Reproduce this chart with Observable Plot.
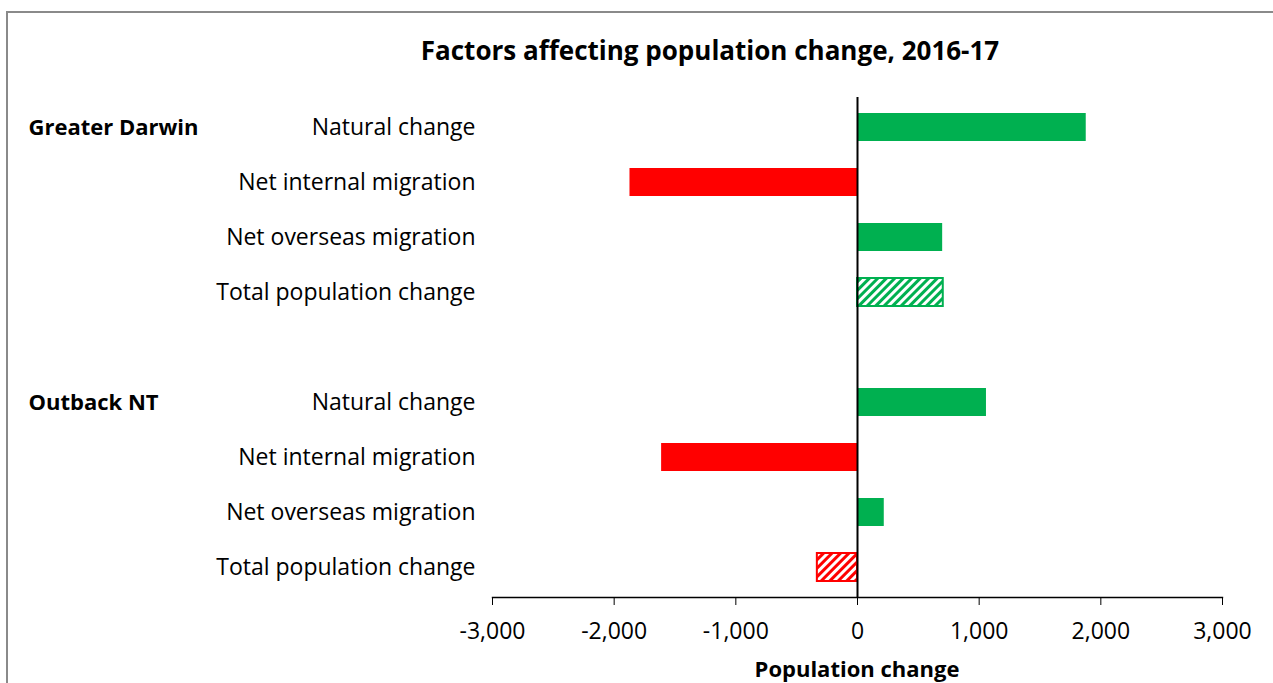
<!DOCTYPE html>
<html>
<head>
<meta charset="utf-8">
<script src="https://cdn.jsdelivr.net/npm/d3@7"></script>
<script src="https://cdn.jsdelivr.net/npm/@observablehq/plot@0.6"></script>
<style>
  html, body { margin: 0; padding: 0; overflow: hidden; background: #fff; }
  #wrap { position: relative; width: 1273px; height: 683px; font-family: "Open Sans", sans-serif; }
  #border { position: absolute; left: 6px; top: 11px; width: 1400px; height: 800px; border: 2px solid #8a8a8a; box-sizing: border-box; }
  #title { position: absolute; left: 0; top: 32px; width: 1420px; text-align: center; font-weight: bold; font-size: 26px; line-height: 36px; color: #000; }
  #xlabel { position: absolute; left: 0; top: 653px; width: 1714px; text-align: center; font-weight: bold; font-size: 22px; line-height: 30px; color: #000; }
  #chart { position: absolute; left: 0; top: 0; }
</style>
</head>
<body>
<div id="wrap">
  <div id="border"></div>
  <div id="chart"></div>
  <div id="title">Factors affecting population change, 2016-17</div>
  <div id="xlabel">Population change</div>
</div>
<script>
const regions = ["Greater Darwin", "Outback NT"];
const factors = ["Natural change", "Net internal migration", "Net overseas migration", "Total population change"];
const darwinValues = [1880, -1870, 700, 705];
const outbackValues = [1060, -1610, 220, -330];
const xTicks = [-3000, -2000, -1000, 0, 1000, 2000, 3000];

const GREEN = "#00B050";
const RED = "#FF0000";

const rows = [];
[darwinValues, outbackValues].forEach((vals, ri) => {
  factors.forEach((f, fi) => {
    rows.push({region: regions[ri], factor: f, key: regions[ri] + "|" + f, value: vals[fi], total: fi === 3});
  });
});
const yDomain = [
  ...factors.map(f => regions[0] + "|" + f),
  "gap",
  ...factors.map(f => regions[1] + "|" + f)
];

const colorOf = d => d.value >= 0 ? GREEN : RED;
const fillOf = d => d.total ? (d.value >= 0 ? "url(#hatchGreen)" : "url(#hatchRed)") : colorOf(d);

const plot = Plot.plot({
  width: 1273,
  height: 683,
  marginLeft: 492,
  marginRight: 51,
  marginTop: 97,
  marginBottom: 86,
  style: {fontFamily: "Open Sans, sans-serif", fontSize: "23px", color: "#000", background: "transparent", overflow: "visible"},
  x: {domain: [-3000, 3000]},
  y: {domain: yDomain, paddingInner: 0.5, paddingOuter: 0.275},
  color: {type: "identity"},
  marks: [
    Plot.barX(rows, {
      x: "value", y: "key",
      fill: fillOf,
      stroke: d => d.total ? colorOf(d) : "none",
      strokeWidth: 2,
      inset: 0
    }),
    Plot.ruleX([0], {stroke: "#000", strokeWidth: 2}),
    Plot.frame({anchor: "bottom", stroke: "#000", strokeWidth: 1.4}),
    Plot.axisX({ticks: xTicks, tickSize: 8, tickPadding: 17, tickFormat: d => d.toLocaleString("en-US"), label: null, fontSize: 23, stroke: "#000"}),
    Plot.axisY({tickSize: 0, tickPadding: 17, tickFormat: k => k === "gap" ? "" : k.split("|")[1], label: null, fontSize: 23}),
    Plot.text(regions, {
      y: r => r + "|" + factors[0],
      text: d => d,
      frameAnchor: "left",
      dx: -464,
      textAnchor: "start",
      fontWeight: "bold",
      fontSize: 22
    })
  ]
});

const ns = "http://www.w3.org/2000/svg";
const defs = document.createElementNS(ns, "defs");
[["hatchGreen", GREEN], ["hatchRed", RED]].forEach(([id, c]) => {
  const p = document.createElementNS(ns, "pattern");
  p.setAttribute("id", id);
  p.setAttribute("patternUnits", "userSpaceOnUse");
  p.setAttribute("width", "6");
  p.setAttribute("height", "6");
  p.setAttribute("patternTransform", "rotate(45)");
  const bg = document.createElementNS(ns, "rect");
  bg.setAttribute("width", "6"); bg.setAttribute("height", "6"); bg.setAttribute("fill", "#fff");
  const s = document.createElementNS(ns, "rect");
  s.setAttribute("x", "0"); s.setAttribute("width", "3"); s.setAttribute("height", "6"); s.setAttribute("fill", c);
  p.appendChild(bg); p.appendChild(s);
  defs.appendChild(p);
});
plot.insertBefore(defs, plot.firstChild);
document.getElementById("chart").appendChild(plot);
</script>
</body>
</html>
